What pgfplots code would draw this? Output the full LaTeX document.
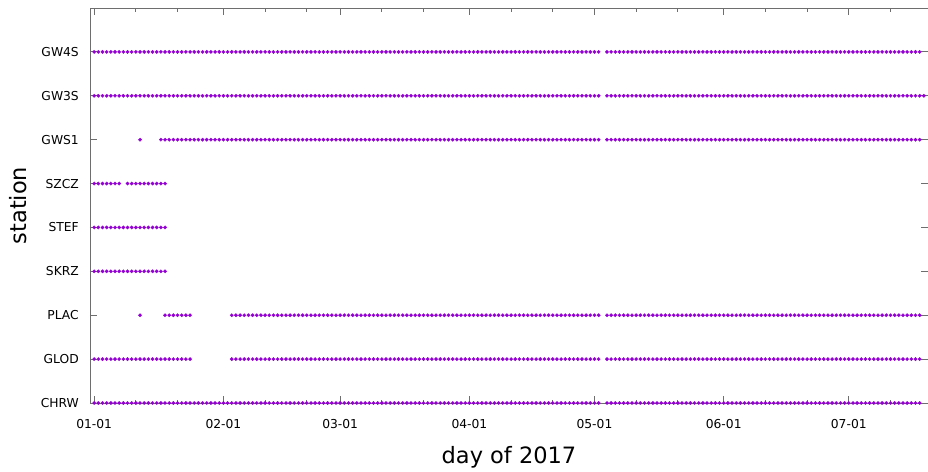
\documentclass[border=0pt]{standalone}
\usepackage{pgfplots}
\pgfplotsset{compat=1.18}
\usepackage{pgfplotstable}
\usepackage{fontspec}
\setmainfont{DejaVu Sans}

\definecolor{obs}{RGB}{148,0,211}
\definecolor{frame}{RGB}{110,110,110}

% Days of 2017 (0 = 01-01) with a record for each station
\pgfplotstableread[row sep=\\]{day\\
0\\1\\2\\3\\4\\5\\6\\7\\8\\9\\10\\11\\12\\13\\14\\15\\16\\17\\18\\19\\
20\\21\\22\\23\\24\\25\\26\\27\\28\\29\\30\\31\\32\\33\\34\\35\\36\\37\\38\\39\\
40\\41\\42\\43\\44\\45\\46\\47\\48\\49\\50\\51\\52\\53\\54\\55\\56\\57\\58\\59\\
60\\61\\62\\63\\64\\65\\66\\67\\68\\69\\70\\71\\72\\73\\74\\75\\76\\77\\78\\79\\
80\\81\\82\\83\\84\\85\\86\\87\\88\\89\\90\\91\\92\\93\\94\\95\\96\\97\\98\\99\\
100\\101\\102\\103\\104\\105\\106\\107\\108\\109\\110\\111\\112\\113\\114\\115\\116\\117\\118\\119\\
120\\121\\123\\124\\125\\126\\127\\128\\129\\130\\131\\132\\133\\134\\135\\136\\137\\138\\139\\140\\
141\\142\\143\\144\\145\\146\\147\\148\\149\\150\\151\\152\\153\\154\\155\\156\\157\\158\\159\\160\\
161\\162\\163\\164\\165\\166\\167\\168\\169\\170\\171\\172\\173\\174\\175\\176\\177\\178\\179\\180\\
181\\182\\183\\184\\185\\186\\187\\188\\189\\190\\191\\192\\193\\194\\195\\196\\197\\198\\
}\gwfours

\pgfplotstableread[row sep=\\]{day\\
0\\1\\2\\3\\4\\5\\6\\7\\8\\9\\10\\11\\12\\13\\14\\15\\16\\17\\18\\19\\
20\\21\\22\\23\\24\\25\\26\\27\\28\\29\\30\\31\\32\\33\\34\\35\\36\\37\\38\\39\\
40\\41\\42\\43\\44\\45\\46\\47\\48\\49\\50\\51\\52\\53\\54\\55\\56\\57\\58\\59\\
60\\61\\62\\63\\64\\65\\66\\67\\68\\69\\70\\71\\72\\73\\74\\75\\76\\77\\78\\79\\
80\\81\\82\\83\\84\\85\\86\\87\\88\\89\\90\\91\\92\\93\\94\\95\\96\\97\\98\\99\\
100\\101\\102\\103\\104\\105\\106\\107\\108\\109\\110\\111\\112\\113\\114\\115\\116\\117\\118\\119\\
120\\121\\123\\124\\125\\126\\127\\128\\129\\130\\131\\132\\133\\134\\135\\136\\137\\138\\139\\140\\
141\\142\\143\\144\\145\\146\\147\\148\\149\\150\\151\\152\\153\\154\\155\\156\\157\\158\\159\\160\\
161\\162\\163\\164\\165\\166\\167\\168\\169\\170\\171\\172\\173\\174\\175\\176\\177\\178\\179\\180\\
181\\182\\183\\184\\185\\186\\187\\188\\189\\190\\191\\192\\193\\194\\195\\196\\197\\198\\199\\
}\gwthrees

\pgfplotstableread[row sep=\\]{day\\
11\\16\\17\\18\\19\\
20\\21\\22\\23\\24\\25\\26\\27\\28\\29\\30\\31\\32\\33\\34\\35\\36\\37\\38\\39\\
40\\41\\42\\43\\44\\45\\46\\47\\48\\49\\50\\51\\52\\53\\54\\55\\56\\57\\58\\59\\
60\\61\\62\\63\\64\\65\\66\\67\\68\\69\\70\\71\\72\\73\\74\\75\\76\\77\\78\\79\\
80\\81\\82\\83\\84\\85\\86\\87\\88\\89\\90\\91\\92\\93\\94\\95\\96\\97\\98\\99\\
100\\101\\102\\103\\104\\105\\106\\107\\108\\109\\110\\111\\112\\113\\114\\115\\116\\117\\118\\119\\
120\\121\\123\\124\\125\\126\\127\\128\\129\\130\\131\\132\\133\\134\\135\\136\\137\\138\\139\\140\\
141\\142\\143\\144\\145\\146\\147\\148\\149\\150\\151\\152\\153\\154\\155\\156\\157\\158\\159\\160\\
161\\162\\163\\164\\165\\166\\167\\168\\169\\170\\171\\172\\173\\174\\175\\176\\177\\178\\179\\180\\
181\\182\\183\\184\\185\\186\\187\\188\\189\\190\\191\\192\\193\\194\\195\\196\\197\\198\\
}\gwsone

\pgfplotstableread[row sep=\\]{day\\
0\\1\\2\\3\\4\\5\\6\\8\\9\\10\\11\\12\\13\\14\\15\\16\\17\\
}\szcz

\pgfplotstableread[row sep=\\]{day\\
0\\1\\2\\3\\4\\5\\6\\7\\8\\9\\10\\11\\12\\13\\14\\15\\16\\17\\
}\stef

\pgfplotstableread[row sep=\\]{day\\
0\\1\\2\\3\\4\\5\\6\\7\\8\\9\\10\\11\\12\\13\\14\\15\\16\\17\\
}\skrz

\pgfplotstableread[row sep=\\]{day\\
11\\17\\18\\19\\20\\21\\22\\23\\
33\\34\\35\\36\\37\\38\\39\\
40\\41\\42\\43\\44\\45\\46\\47\\48\\49\\50\\51\\52\\53\\54\\55\\56\\57\\58\\59\\
60\\61\\62\\63\\64\\65\\66\\67\\68\\69\\70\\71\\72\\73\\74\\75\\76\\77\\78\\79\\
80\\81\\82\\83\\84\\85\\86\\87\\88\\89\\90\\91\\92\\93\\94\\95\\96\\97\\98\\99\\
100\\101\\102\\103\\104\\105\\106\\107\\108\\109\\110\\111\\112\\113\\114\\115\\116\\117\\118\\119\\
120\\121\\123\\124\\125\\126\\127\\128\\129\\130\\131\\132\\133\\134\\135\\136\\137\\138\\139\\140\\
141\\142\\143\\144\\145\\146\\147\\148\\149\\150\\151\\152\\153\\154\\155\\156\\157\\158\\159\\160\\
161\\162\\163\\164\\165\\166\\167\\168\\169\\170\\171\\172\\173\\174\\175\\176\\177\\178\\179\\180\\
181\\182\\183\\184\\185\\186\\187\\188\\189\\190\\191\\192\\193\\194\\195\\196\\197\\198\\
}\plac

\pgfplotstableread[row sep=\\]{day\\
0\\1\\2\\3\\4\\5\\6\\7\\8\\9\\10\\11\\12\\13\\14\\15\\16\\17\\18\\19\\
20\\21\\22\\23\\
33\\34\\35\\36\\37\\38\\39\\
40\\41\\42\\43\\44\\45\\46\\47\\48\\49\\50\\51\\52\\53\\54\\55\\56\\57\\58\\59\\
60\\61\\62\\63\\64\\65\\66\\67\\68\\69\\70\\71\\72\\73\\74\\75\\76\\77\\78\\79\\
80\\81\\82\\83\\84\\85\\86\\87\\88\\89\\90\\91\\92\\93\\94\\95\\96\\97\\98\\99\\
100\\101\\102\\103\\104\\105\\106\\107\\108\\109\\110\\111\\112\\113\\114\\115\\116\\117\\118\\119\\
120\\121\\123\\124\\125\\126\\127\\128\\129\\130\\131\\132\\133\\134\\135\\136\\137\\138\\139\\140\\
141\\142\\143\\144\\145\\146\\147\\148\\149\\150\\151\\152\\153\\154\\155\\156\\157\\158\\159\\160\\
161\\162\\163\\164\\165\\166\\167\\168\\169\\170\\171\\172\\173\\174\\175\\176\\177\\178\\179\\180\\
181\\182\\183\\184\\185\\186\\187\\188\\189\\190\\191\\192\\193\\194\\195\\196\\197\\198\\
}\glod

\pgfplotstableread[row sep=\\]{day\\
0\\1\\2\\3\\4\\5\\6\\7\\8\\9\\10\\11\\12\\13\\14\\15\\16\\17\\18\\19\\
20\\21\\22\\23\\24\\25\\26\\27\\28\\29\\30\\31\\32\\33\\34\\35\\36\\37\\38\\39\\
40\\41\\42\\43\\44\\45\\46\\47\\48\\49\\50\\51\\52\\53\\54\\55\\56\\57\\58\\59\\
60\\61\\62\\63\\64\\65\\66\\67\\68\\69\\70\\71\\72\\73\\74\\75\\76\\77\\78\\79\\
80\\81\\82\\83\\84\\85\\86\\87\\88\\89\\90\\91\\92\\93\\94\\95\\96\\97\\98\\99\\
100\\101\\102\\103\\104\\105\\106\\107\\108\\109\\110\\111\\112\\113\\114\\115\\116\\117\\118\\119\\
120\\121\\123\\124\\125\\126\\127\\128\\129\\130\\131\\132\\133\\134\\135\\136\\137\\138\\139\\140\\
141\\142\\143\\144\\145\\146\\147\\148\\149\\150\\151\\152\\153\\154\\155\\156\\157\\158\\159\\160\\
161\\162\\163\\164\\165\\166\\167\\168\\169\\170\\171\\172\\173\\174\\175\\176\\177\\178\\179\\180\\
181\\182\\183\\184\\185\\186\\187\\188\\189\\190\\191\\192\\193\\194\\195\\196\\197\\198\\
}\chrw

\pgfplotsset{daydot/.style={color=obs, only marks, mark=*, mark size=1.7bp,
  mark options={fill=obs, draw=obs, line width=0.3bp, solid}}}

\begin{document}
\begin{tikzpicture}
\path[use as bounding box] (-90bp,-69bp) rectangle (838bp,403bp);
\begin{axis}[
  at={(0,0)}, anchor=south west,
  scale only axis, width=838bp, height=395bp,
  xmin=-1, xmax=200, ymin=0, ymax=9,
  clip=false,
  axis line style={frame, line width=0.8bp},
  tick style={frame, line width=0.8bp},
  tick align=inside,
  xtick pos=both, ytick pos=both,
  major tick length=7bp, minor tick length=3.5bp,
  xtick={0,31,59,90,120,151,181},
  xticklabels={01-01,02-01,03-01,04-01,05-01,06-01,07-01},
  minor xtick={10,20,41,51,69,79,100,110,130,140,161,171,191},
  ytick={0,1,2,3,4,5,6,7,8},
  yticklabels={CHRW,GLOD,PLAC,SKRZ,STEF,SZCZ,GWS1,GW3S,GW4S},
  ticklabel style={font=\fontsize{12.3bp}{14bp}\selectfont, text=black, inner sep=0pt},
  xticklabel style={anchor=base, yshift=-25.5bp},
  yticklabel style={anchor=east, xshift=-11bp},
  xlabel={day of 2017},
  ylabel={station},
  label style={font=\fontsize{22.5bp}{26bp}\selectfont},
  xlabel style={at={(axis description cs:0.5,-0.152)}, anchor=base, inner sep=0pt},
  ylabel style={at={(axis description cs:-0.0752,0.5)}, anchor=base, inner sep=0pt},
]
\addplot[daydot] table[x index=0, y index=0, y expr=8] {\gwfours};
\addplot[daydot] table[x index=0, y index=0, y expr=7] {\gwthrees};
\addplot[daydot] table[x index=0, y index=0, y expr=6] {\gwsone};
\addplot[daydot] table[x index=0, y index=0, y expr=5] {\szcz};
\addplot[daydot] table[x index=0, y index=0, y expr=4] {\stef};
\addplot[daydot] table[x index=0, y index=0, y expr=3] {\skrz};
\addplot[daydot] table[x index=0, y index=0, y expr=2] {\plac};
\addplot[daydot] table[x index=0, y index=0, y expr=1] {\glod};
\addplot[daydot] table[x index=0, y index=0, y expr=0] {\chrw};
\end{axis}
\end{tikzpicture}
\end{document}
